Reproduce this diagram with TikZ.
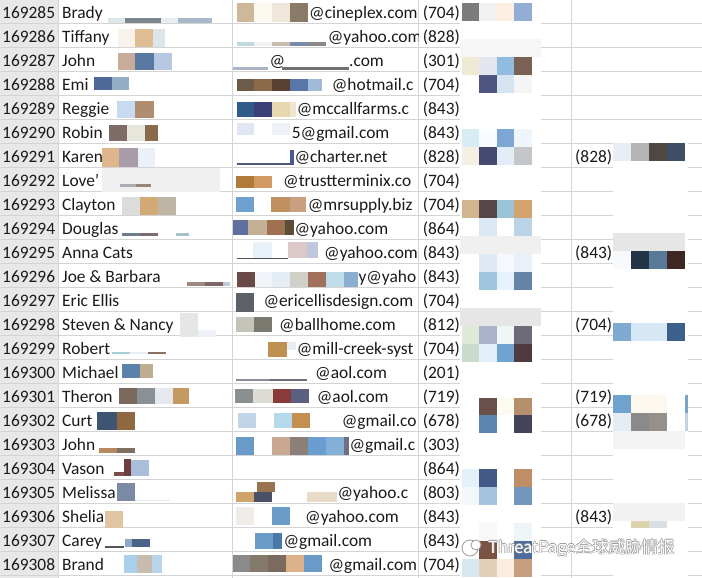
\documentclass[tikz,border=0pt]{standalone}
\usepackage{fontspec}
\setmainfont{Carlito}
\newfontfamily\wmfont{Noto Sans CJK SC}
\usepackage{tikz}

% one pixel block of the blur: x1 y1 x2 y2 hex
\newcommand{\blk}[5]{\definecolor{blkc}{HTML}{#5}\fill[blkc] (#1,#2) rectangle (#3,#4);}
% mosaic rows in the two phone columns
\newcommand{\mosD}[3]{\definecolor{blkc}{HTML}{#3}\fill[blkc] ({461.5+17.6*#1},{3.3+17.92*#2}) rectangle ({461.5+17.6*(#1+1)},{3.3+17.92*(#2+1)});}
\newcommand{\rowD}[5]{\mosD{0}{#1}{#2}\mosD{1}{#1}{#3}\mosD{2}{#1}{#4}\mosD{3}{#1}{#5}}
\newcommand{\mosE}[3]{\definecolor{blkc}{HTML}{#3}\fill[blkc] ({612.7+18.1*#1},{143.3+18*#2}) rectangle ({612.7+18.1*(#1+1)},{143.3+18*(#2+1)});}
\newcommand{\rowE}[5]{\mosE{0}{#1}{#2}\mosE{1}{#1}{#3}\mosE{2}{#1}{#4}\mosE{3}{#1}{#5}}

\definecolor{hdrgrey}{HTML}{E8E8E8}
\definecolor{gridgrey}{HTML}{D4D4D4}
\definecolor{txt}{HTML}{1A1A1A}

\begin{document}
\begin{tikzpicture}[x=1pt,y=-1pt,
	cell/.style={anchor=base west,inner sep=0pt,text=txt,font=\fontsize{17.4}{20}\selectfont},
	gridline/.style={draw=gridgrey,line width=1pt}]
	\useasboundingbox (0,0) rectangle (702,578);
	\fill[white] (0,0) rectangle (702,578);
	\fill[hdrgrey] (0,0) rectangle (58.3,578);
	% grid
	\foreach \k in {1,...,24}
		\draw[gridline] (0,{24*\k-0.5}) -- (702,{24*\k-0.5});
	\draw[gridline] (58.3,0) -- (58.3,578);
	\draw[gridline] (232.3,0) -- (232.3,578);
	\draw[gridline] (418.8,0) -- (418.8,578);
	\draw[gridline] (571.7,0) -- (571.7,578);

	% row numbers
	\node[cell] (id285) at (2,18.3) {169285};
	\node[cell] (id286) at (2,42.3) {169286};
	\node[cell] (id287) at (2,66.3) {169287};
	\node[cell] (id288) at (2,90.3) {169288};
	\node[cell] (id289) at (2,114.3) {169289};
	\node[cell] (id290) at (2,138.3) {169290};
	\node[cell] (id291) at (2,162.3) {169291};
	\node[cell] (id292) at (2,186.3) {169292};
	\node[cell] (id293) at (2,210.3) {169293};
	\node[cell] (id294) at (2,234.3) {169294};
	\node[cell] (id295) at (2,258.3) {169295};
	\node[cell] (id296) at (2,282.3) {169296};
	\node[cell] (id297) at (2,306.3) {169297};
	\node[cell] (id298) at (2,330.3) {169298};
	\node[cell] (id299) at (2,354.3) {169299};
	\node[cell] (id300) at (2,378.3) {169300};
	\node[cell] (id301) at (2,402.3) {169301};
	\node[cell] (id302) at (2,426.3) {169302};
	\node[cell] (id303) at (2,450.3) {169303};
	\node[cell] (id304) at (2,474.3) {169304};
	\node[cell] (id305) at (2,498.3) {169305};
	\node[cell] (id306) at (2,522.3) {169306};
	\node[cell] (id307) at (2,546.3) {169307};
	\node[cell] (id308) at (2,570.3) {169308};

	% first names
	\node[cell] (nm285) at (62,18.3) {Brady};
	\node[cell] (nm286) at (62,42.3) {Tiffany};
	\node[cell] (nm287) at (62,66.3) {John};
	\node[cell] (nm288) at (62,90.3) {Emi};
	\node[cell] (nm289) at (62,114.3) {Reggie};
	\node[cell] (nm290) at (62,138.3) {Robin};
	\node[cell] (nm291) at (62,162.3) {Karen};
	\node[cell] (nm292) at (62,186.3) {Love'};
	\node[cell] (nm293) at (62,210.3) {Clayton};
	\node[cell] (nm294) at (62,234.3) {Douglas};
	\node[cell] (nm295) at (62,258.3) {Anna Cats};
	\node[cell] (nm296) at (62,282.3) {Joe \& Barbara};
	\node[cell] (nm297) at (62,306.3) {Eric Ellis};
	\node[cell] (nm298) at (62,330.3) {Steven \& Nancy};
	\node[cell] (nm299) at (62,354.3) {Robert};
	\node[cell] (nm300) at (62,378.3) {Michael};
	\node[cell] (nm301) at (62,402.3) {Theron};
	\node[cell] (nm302) at (62,426.3) {Curt};
	\node[cell] (nm303) at (62,450.3) {John};
	\node[cell] (nm304) at (62,474.3) {Vason};
	\node[cell] (nm305) at (62,498.3) {Melissa};
	\node[cell] (nm306) at (62,522.3) {Shelia};
	\node[cell] (nm307) at (62,546.3) {Carey};
	\node[cell] (nm308) at (62,570.3) {Brand};

	% mail column, cut at the cell edge
	\begin{scope}
		\clip (233,0) rectangle (418.3,578);
		\node[cell] (em285) at (309,18.3) {@cineplex.com};
		\node[cell] (em286) at (327.7,42.3) {@yahoo.com};
		\node[cell] (em287) at (269.3,66.3) {@};
		\node[cell] (em287b) at (349,66.3) {.com};
		\node[cell] (em288) at (331.7,90.3) {@hotmail.c};
		\node[cell] (em289) at (296.7,114.3) {@mccallfarms.c};
		\node[cell] (em290) at (291.7,138.3) {5@gmail.com};
		\node[cell] (em291) at (294.3,162.3) {@charter.net};
		\node[cell] (em292) at (283,186.3) {@trustterminix.co};
		\node[cell] (em293) at (307.7,210.3) {@mrsupply.biz};
		\node[cell] (em294) at (294.3,234.3) {@yahoo.com};
		\node[cell] (em295) at (324,258.3) {@yahoo.com};
		\node[cell] (em296) at (358.3,282.3) {y@yaho};
		\node[cell] (em297) at (263.3,306.3) {@ericellisdesign.com};
		\node[cell] (em298) at (279,330.3) {@ballhome.com};
		\node[cell] (em299) at (296.7,354.3) {@mill-creek-syst};
		\node[cell] (em300) at (315,378.3) {@aol.com};
		\node[cell] (em301) at (316.7,402.3) {@aol.com};
		\node[cell] (em302) at (341.7,426.3) {@gmail.co};
		\node[cell] (em303) at (349.3,450.3) {@gmail.c};
		\node[cell] (em305) at (337.3,498.3) {@yahoo.c};
		\node[cell] (em306) at (305,522.3) {@yahoo.com};
		\node[cell] (em307) at (283.3,546.3) {@gmail.com};
		\node[cell] (em308) at (328.3,570.3) {@gmail.com};
	\end{scope}

	% phones
	\node[cell] (ph285) at (422.7,18.3) {(704)};
	\node[cell] (ph286) at (422.7,42.3) {(828)};
	\node[cell] (ph287) at (422.7,66.3) {(301)};
	\node[cell] (ph288) at (422.7,90.3) {(704)};
	\node[cell] (ph289) at (422.7,114.3) {(843)};
	\node[cell] (ph290) at (422.7,138.3) {(843)};
	\node[cell] (ph291) at (422.7,162.3) {(828)};
	\node[cell] (ph292) at (422.7,186.3) {(704)};
	\node[cell] (ph293) at (422.7,210.3) {(704)};
	\node[cell] (ph294) at (422.7,234.3) {(864)};
	\node[cell] (ph295) at (422.7,258.3) {(843)};
	\node[cell] (ph296) at (422.7,282.3) {(843)};
	\node[cell] (ph297) at (422.7,306.3) {(704)};
	\node[cell] (ph298) at (422.7,330.3) {(812)};
	\node[cell] (ph299) at (422.7,354.3) {(704)};
	\node[cell] (ph300) at (422.7,378.3) {(201)};
	\node[cell] (ph301) at (422.7,402.3) {(719)};
	\node[cell] (ph302) at (422.7,426.3) {(678)};
	\node[cell] (ph303) at (422.7,450.3) {(303)};
	\node[cell] (ph304) at (422.7,474.3) {(864)};
	\node[cell] (ph305) at (422.7,498.3) {(803)};
	\node[cell] (ph306) at (422.7,522.3) {(843)};
	\node[cell] (ph307) at (422.7,546.3) {(843)};
	\node[cell] (ph308) at (422.7,570.3) {(704)};

	% second phones
	\node[cell] (alt291) at (575,162.3) {(828)};
	\node[cell] (alt295) at (575,258.3) {(843)};
	\node[cell] (alt298) at (575,330.3) {(704)};
	\node[cell] (alt301) at (575,402.3) {(719)};
	\node[cell] (alt302) at (575,426.3) {(678)};
	\node[cell] (alt306) at (575,522.3) {(843)};

	% blurred parts, name column
	\blk{108}{18}{125}{23}{DDE6EA}\blk{125}{18}{161}{23}{7D868E}\blk{161}{18}{178}{23}{E8EEF2}\blk{178}{18}{212}{23}{A9B9C9}
	\blk{118}{29.3}{135}{47.3}{F7F3EA}\blk{135}{29.3}{153}{47.3}{DFBD93}\blk{153}{29.3}{165}{47.3}{DDE5E8}
	\blk{118}{52.7}{135}{70}{C7AD99}\blk{135}{52.7}{154}{70}{5877A1}\blk{154}{52.7}{172}{70}{B7C9E2}
	\blk{94.3}{77.3}{112}{90}{4E6898}\blk{112}{77.3}{129}{90}{94AEC7}
	\blk{116.7}{101}{135}{118.3}{C8DAF0}\blk{135}{101}{154}{118.3}{B08D70}
	\blk{109}{125}{127}{140.7}{7E6D66}\blk{127}{125}{145}{140.7}{E6E6DD}\blk{145}{125}{157.7}{140.7}{8A6A4A}
	\blk{101.7}{148.3}{119.3}{166.7}{E0B68C}\blk{119.3}{148.3}{138}{166.7}{A89CA8}\blk{138}{148.3}{155}{166.7}{ECF0F8}
	\blk{101.7}{167.7}{220}{191.7}{EFEFEF}\blk{120}{184.3}{136}{186.7}{A8ACB4}\blk{136}{184.3}{151}{186.7}{9C8478}
	\blk{122.3}{196.7}{140}{215}{DCDCDC}\blk{140}{196.7}{158}{215}{D2AA78}\blk{158}{196.7}{176}{215}{BFB5A5}
	\blk{122.3}{233.3}{140}{235.7}{6E7C8E}\blk{140}{233.3}{158}{235.7}{7D6A6E}\blk{176}{233.3}{188.7}{235.7}{A8C0CC}
	\blk{186.7}{282.3}{205}{285.7}{9C8A80}\blk{205}{282.3}{223}{285.7}{806468}\blk{223}{282.3}{229.5}{285.7}{C0CCD8}
	\blk{180}{312.7}{198}{336.7}{E6E6E6}\blk{198}{330}{216}{336.7}{EEF2F6}
	\blk{111.7}{351.7}{130}{354.3}{A8D0D8}\blk{130}{351.7}{148}{354.3}{E8EEF2}\blk{148}{351.7}{166}{354.3}{8A7066}
	\blk{122.3}{364}{140}{378.3}{5A82AA}\blk{140}{364}{153}{378.3}{BFAE90}
	\blk{119}{387.7}{137}{404}{7A685C}\blk{137}{387.7}{155}{404}{8A9098}\blk{155}{387.7}{173}{404}{E5E9EE}\blk{173}{387.7}{189}{404}{C59A62}
	\blk{96.7}{411.7}{117}{430}{3D5570}\blk{117}{411.7}{135}{430}{8F6840}
	\blk{99}{448.3}{117}{453.3}{B68A5C}\blk{117}{448.3}{135}{453.3}{7D7060}
	\blk{114}{472}{124}{475.7}{7A4F48}\blk{124}{459}{131}{475.7}{6E3E3E}\blk{131}{460}{149}{476}{A8BEDB}
	\blk{117}{482.7}{135}{501}{7B8AA5}\blk{135}{499.5}{170}{501}{E4E8EE}
	\blk{105}{511}{123}{528.3}{E0C4A4}
	\blk{105}{546}{124}{548}{555555}\blk{125}{539.3}{132}{546.7}{8FA8C4}\blk{132}{539.3}{150}{546.7}{4A6488}
	\blk{124}{555}{137}{573.3}{A8D0EA}\blk{137}{555}{152}{573.3}{C8BCB0}\blk{152}{555}{162}{573.3}{B8D4EA}

	% blurred parts, mail column
	\blk{237}{3}{254}{22}{CDB89A}\blk{254}{3}{272}{22}{FBF8F0}\blk{272}{3}{290}{22}{EFE7DC}\blk{290}{3}{308}{22}{8A7A68}
	\blk{237}{41.7}{254}{45.7}{C0D8E0}\blk{254}{41.7}{272}{45.7}{F2F2F2}\blk{272}{41.7}{290}{45.7}{C9BCAE}\blk{290}{41.7}{308}{45.7}{7A8AAA}\blk{308}{41.7}{326}{45.7}{8A8A8A}
	\blk{233}{67}{268}{69.7}{A9B5C5}\blk{282}{67}{349}{69.7}{6F6F6F}
	\blk{236.7}{79}{254}{90.7}{6E5A48}\blk{254}{79}{272}{90.7}{8A6A48}\blk{272}{79}{290}{90.7}{5A4030}\blk{290}{79}{308}{90.7}{5877A8}\blk{308}{79}{322}{90.7}{A0BCD8}
	\blk{237}{101.7}{254}{116.7}{2F5A8A}\blk{254}{101.7}{272}{116.7}{3A3F78}\blk{272}{101.7}{290}{116.7}{E8D8B0}\blk{290}{101.7}{296}{116.7}{F0E6D0}
	\blk{237}{123.3}{254}{135}{E0E6F4}\blk{272}{123.3}{290}{135}{EEF2F8}
	\blk{237}{162.7}{290}{165}{4A5A7A}\blk{290}{150}{294}{165}{4A5A90}
	\blk{236}{176}{254}{187.7}{B07A3A}\blk{254}{176}{272}{187.7}{D09A60}
	\blk{236}{197.3}{254}{211.7}{70A0D0}\blk{271}{197.3}{290}{211.7}{C09060}\blk{290}{197.3}{306}{211.7}{C8A080}
	\blk{233}{220}{248}{235}{5E6FA0}\blk{248}{220}{266.7}{235}{C4B094}\blk{266.7}{220}{285}{235}{A07050}\blk{285}{220}{294}{235}{5A4E38}
	\blk{253.3}{241.7}{272}{258.3}{E8F0F8}\blk{288}{241.7}{307}{258.3}{DCC8C8}\blk{307}{241.7}{318}{258.3}{C0C8E0}\blk{237}{257.5}{288}{259}{505050}
	\blk{237.3}{271.7}{255}{286.7}{6A4A48}\blk{255}{271.7}{272}{286.7}{F0F4F8}\blk{272}{271.7}{290}{286.7}{E4ECF4}\blk{290}{271.7}{308}{286.7}{D0CFC8}\blk{308}{271.7}{326}{286.7}{A0705A}\blk{326}{271.7}{344}{286.7}{C0DCE8}\blk{344}{271.7}{358}{286.7}{8AAED0}
	\blk{236}{293.3}{254}{311.7}{5C6068}
	\blk{236}{316.7}{254}{331.7}{C4C4B8}\blk{254}{316.7}{272}{331.7}{7A7A70}
	\blk{268.3}{341.7}{286.7}{357}{C09050}\blk{286.7}{341.7}{296}{350}{E8EEF4}
	\blk{236}{379.3}{270}{381}{8A8AA0}\blk{270}{379.3}{307}{381}{6A6A78}
	\blk{235}{389}{253}{403.3}{8A9090}\blk{253}{389}{273}{403.3}{DCDCD4}\blk{273}{389}{291}{403.3}{8A3A38}\blk{291}{389}{309}{403.3}{5A6080}
	\blk{238}{413.3}{256}{428.3}{C0D4EA}\blk{274}{413.3}{292}{428.3}{B4D8EC}\blk{292}{413.3}{310}{428.3}{C49050}
	\blk{236}{436.7}{254}{455}{6A9AC8}\blk{272}{436.7}{290}{455}{C8A890}\blk{290}{436.7}{308}{455}{8A8078}\blk{308}{436.7}{326}{455}{6A9ED0}\blk{326}{436.7}{344}{455}{84B0D8}\blk{344}{436.7}{349}{455}{707080}
	\blk{257}{481.7}{275}{491.7}{9A7450}\blk{236}{491.7}{254}{501.7}{D0A468}\blk{254}{491.7}{272}{501.7}{4A5068}\blk{307}{491.7}{337}{501.7}{E8DCC8}
	\blk{236}{506.7}{254}{525}{F0ECE8}\blk{272}{506.7}{290}{525}{6A9CC8}
	\blk{255}{533.3}{273}{549}{6A9CC8}\blk{273}{533.3}{282}{549}{4A78A8}
	\blk{233}{555}{250}{571.7}{8A8A8A}\blk{250}{555}{268}{571.7}{847A6C}\blk{268}{555}{286}{571.7}{7A6A60}\blk{286}{555}{304}{571.7}{DCB088}\blk{304}{555}{322}{571.7}{6A9AC8}

	% mosaic, first phone column
	\fill[white] (459.5,0) rectangle (541,578);
	\rowD{0}{7B7B7B}{F1F1F1}{FCEFDF}{93AED4}
	\blk{459.5}{39.1}{541}{57}{F6F6F6}
	\rowD{3}{EFE9D6}{E3E6EF}{8FBCDF}{7B6155}
	\rowD{4}{FFFFFF}{4D5580}{D5E4F0}{F5F5F5}
	\rowD{7}{D8ECF4}{F8FBFF}{7EA6D2}{EEF6FB}
	\rowD{8}{F5EFE4}{464A70}{E3EDF8}{C4C6CA}
	\rowD{11}{D2B58E}{57474A}{9BC3D8}{D3A36D}
	\rowD{12}{FFFFFF}{DDE8F5}{FFFFFF}{BAD3E6}
	\blk{459.5}{236.3}{541}{254.2}{F0F0F0}
	\rowD{14}{FFFFFF}{DFE9F4}{F5F9FD}{EAF0F7}
	\rowD{15}{FFFFFF}{9FC6DC}{E6F2FC}{6484A8}
	\blk{459.5}{308}{541}{326}{E6E6E6}
	\rowD{18}{DFE8D9}{AAB1C8}{EEF7F5}{6E6A78}
	\rowD{19}{C9DCCC}{E3F0FB}{6FA4D2}{4F3A40}
	\rowD{22}{FFFFFF}{6A5048}{FDFAF2}{B58F6C}
	\rowD{23}{FFFFFF}{5D86B3}{FFFFFF}{43435A}
	\rowD{26}{E5F1F8}{435A88}{FFFFFF}{BE8F66}
	\rowD{27}{F3F7FA}{A6C3DD}{FFFFFF}{7396BF}
	\rowD{29}{FFFFFF}{F8F8F8}{FFFFFF}{EEF5F9}
	\rowD{30}{FFFFFF}{7A5442}{FFFFFF}{4E6D9C}
	\rowD{31}{D8E6EF}{E3D0B8}{FBECE0}{C6A07E}

	% mosaic, second phone column
	\fill[white] (612.7,141) rectangle (687.5,578);
	\rowE{0}{E8EEF8}{B5B5B5}{4F4740}{3E4E66}
	\rowE{5}{E6E6E6}{E6E6E6}{E6E6E6}{E6E6E6}
	\rowE{6}{F6FAFD}{243447}{587A99}{3E2622}
	\rowE{10}{80AAD1}{D6E7F5}{D6E7F5}{3C5F8C}
	\rowE{14}{6FA2CC}{FDF8EE}{FDF8EE}{FFFFFF}
	\rowE{15}{E4EDF5}{8A8A8A}{959089}{FFFFFF}
	\rowE{16}{F4F4F4}{F4F4F4}{F4F4F4}{F4F4F4}
	\rowE{20}{F2F2F2}{F2F2F2}{F2F2F2}{F2F2F2}
	\blk{631}{521.3}{649}{528}{DDD2AE}\blk{649}{521.3}{667}{528}{D8E0E4}
	\blk{685}{395.3}{688}{413.3}{7AA5C9}\blk{685}{413.3}{688}{431.3}{C0D4E4}

	% watermark
	\definecolor{wmline}{HTML}{9A9A9A}
	\draw[wmline,line width=0.8pt,fill=white] (470,548) circle [radius=8];
	\draw[wmline,line width=0.8pt,fill=white] (476,545) circle [radius=5];
	\foreach \dx/\dy in {-0.7/0,0.7/0,0/-0.7,0/0.7}
		\node[anchor=base west,inner sep=0pt,text=wmline,font=\wmfont\fontsize{16.5}{18}\selectfont] at ({488+\dx},{553+\dy}) {ThreatPage全球威胁情报};
	\node[anchor=base west,inner sep=0pt,text=white,font=\wmfont\fontsize{16.5}{18}\selectfont] (mark) at (488,553) {ThreatPage全球威胁情报};
\end{tikzpicture}
\end{document}
